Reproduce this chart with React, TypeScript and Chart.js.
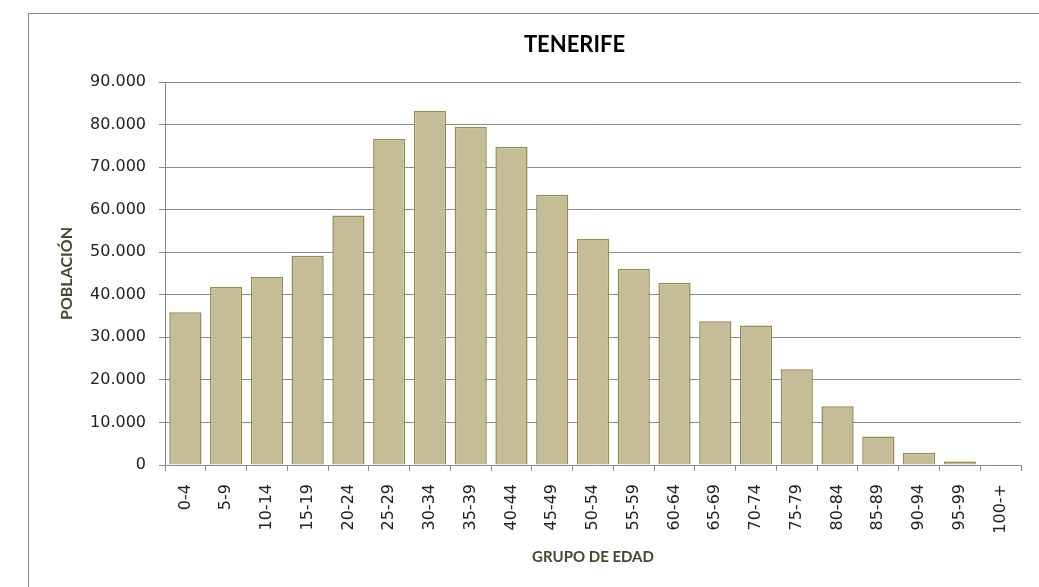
import React, { useEffect, useRef } from "react";
import { Chart, registerables } from "chart.js";

Chart.register(...registerables);

const categories = ["0-4","5-9","10-14","15-19","20-24","25-29","30-34","35-39","40-44","45-49","50-54","55-59","60-64","65-69","70-74","75-79","80-84","85-89","90-94","95-99","100-+"];
const population = [35900, 41800, 44200, 49200, 58600, 76600, 83200, 79500, 74800, 63500, 53100, 46100, 42800, 33800, 32800, 22500, 13800, 6700, 2900, 800, 60];
const chartTitle = "TENERIFE";
const xTitle = "GRUPO DE EDAD";
const yTitle = "POBLACIÓN";

function fmt(v: number): string {
  const s = Math.round(v).toString();
  return s.replace(/\B(?=(\d{3})+(?!\d))/g, ".");
}

const borderPlugin = {
  id: "outerBorder",
  beforeDraw(chart: any) {
    const ctx = chart.ctx;
    ctx.save();
    ctx.strokeStyle = "#8c8c8c";
    ctx.lineWidth = 1;
    ctx.strokeRect(28.5, 13.5, 3000, 3000);
    ctx.restore();
  },
};

const titlePlugin = {
  id: "chartTitleText",
  afterDraw(chart: any) {
    const ctx = chart.ctx;
    ctx.save();
    ctx.fillStyle = "#000000";
    ctx.font = "bold 22px Lato";
    ctx.textAlign = "center";
    ctx.textBaseline = "alphabetic";
    ctx.fillText(chartTitle, 574.5, 52);
    ctx.restore();
  },
};

export default function App() {
  const ref = useRef<HTMLCanvasElement>(null);
  useEffect(() => {
    if (!ref.current) return;
    const tickFont = { family: "DejaVu Sans", size: 16 };
    const chart = new Chart(ref.current, {
      type: "bar",
      data: {
        labels: categories,
        datasets: [
          {
            data: population,
            backgroundColor: "#c4bd97",
            borderColor: "#948a54",
            borderWidth: 1.5,
            barPercentage: 0.79,
            categoryPercentage: 1,
          },
        ],
      },
      plugins: [borderPlugin, titlePlugin],
      options: {
        animation: false,
        responsive: false,
        maintainAspectRatio: false,
        layout: { padding: { left: 0, right: 18, top: 82, bottom: 0 } },
        plugins: {
          legend: { display: false },
          tooltip: { enabled: false },
          title: { display: false },
        },
        scales: {
          x: {
            grid: {
              display: true,
              drawOnChartArea: false,
              drawTicks: true,
              tickLength: 6,
              color: "#8c8c8c",
              offset: true,
            },
            border: { display: true, color: "#8c8c8c", width: 1 },
            ticks: {
              color: "#222222",
              font: tickFont,
              minRotation: 90,
              maxRotation: 90,
              autoSkip: false,
              padding: 13,
            },
            title: {
              display: true,
              text: xTitle,
              color: "#4a4530",
              font: { family: "Lato", size: 15, weight: "bold" },
              padding: { top: 0, bottom: 21 },
            },
            afterFit: (scale: any) => {
              scale.height = 122;
            },
          },
          y: {
            min: 0,
            max: 90000,
            grid: {
              color: "#8c8c8c",
              tickLength: 6,
              lineWidth: 1,
            },
            border: { display: true, color: "#8c8c8c", width: 1 },
            ticks: {
              stepSize: 10000,
              color: "#222222",
              font: tickFont,
              padding: 13,
              callback: (v: any) => fmt(Number(v)),
            },
            title: {
              display: true,
              text: yTitle,
              color: "#4a4530",
              font: { family: "Lato", size: 16, weight: "bold" },
              padding: { top: 57, bottom: 0 },
            },
            afterFit: (scale: any) => {
              scale.width = 165;
            },
          },
        },
      },
    });
    return () => chart.destroy();
  }, []);
  return (
    <div style={{ position: "fixed", left: 0, top: 0, width: 1039, height: 587, background: "#ffffff" }}>
      <canvas ref={ref} width={1039} height={587} style={{ width: 1039, height: 587, display: "block" }} />
    </div>
  );
}
